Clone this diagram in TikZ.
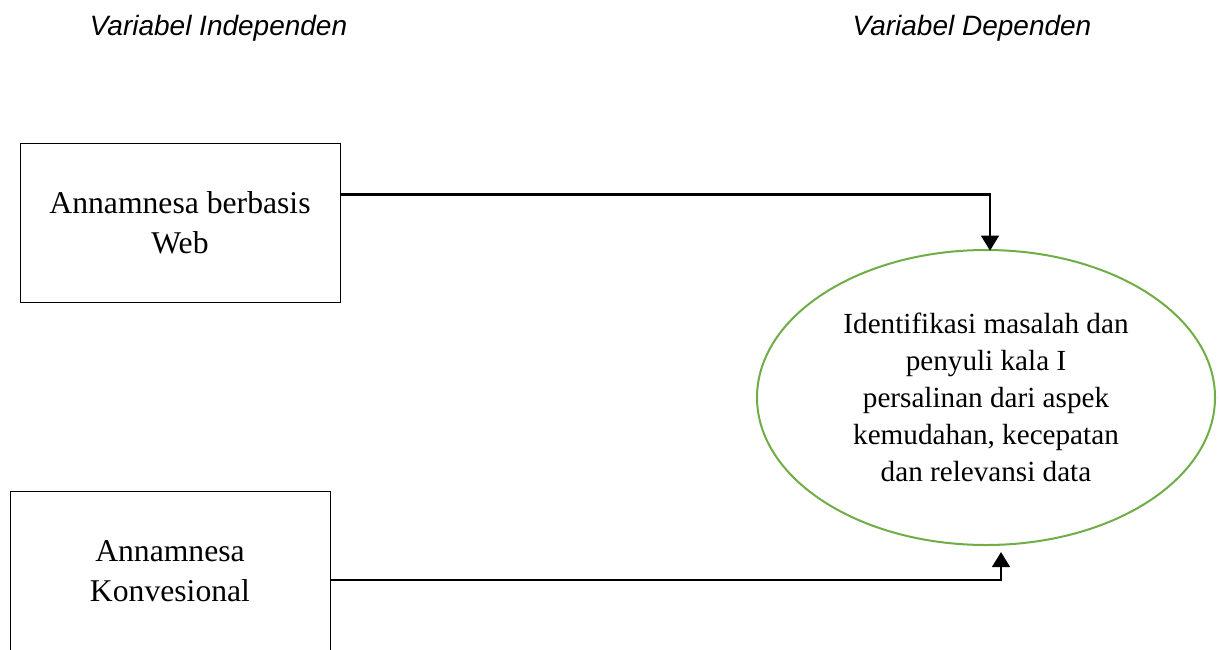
\documentclass[tikz,border=0pt]{standalone}
\usepackage{fontspec}
\setmainfont{Liberation Serif}
\setsansfont{Liberation Sans}
\usetikzlibrary{arrows.meta, positioning, shapes.geometric}
\definecolor{varGreen}{HTML}{70AD47}

\begin{document}
\begin{tikzpicture}[
  x=0.6pt, y=-0.6pt,
  varbox/.style={
    rectangle, draw=black, line width=0.6pt, align=center,
    minimum width=192pt, minimum height=95.4pt, inner sep=0pt,
    font=\fontsize{19}{24}\selectfont,
  },
  target/.style={
    ellipse, draw=varGreen, line width=1.2pt, align=center,
    minimum width=274.8pt, minimum height=177pt, inner sep=0pt,
    font=\fontsize{17.5}{22.2}\selectfont,
  },
  header/.style={font=\sffamily\itshape\fontsize{16.8}{20}\selectfont},
  arr/.style={-{Triangle[length=9pt, width=10.5pt]}, line width=1.7pt},
]
\useasboundingbox (0,0) rectangle (1219,649);

% Headers
\node[header] (hInd) at (218.5,28) {Variabel Independen};
\node[header] (hDep) at (972,28) {Variabel Dependen};

% Boxes
\node[varbox] (web)  at (180,222.5) {Annamnesa berbasis\\Web};
\node[varbox] (konv) at (170,571)   {Annamnesa\\Konvesional};

% Dependent variable
\node[target] (ident) at (986,397.5)
  {Identifikasi masalah dan\\penyuli kala I\\persalinan dari aspek\\kemudahan, kecepatan\\dan relevansi data};

% Arrows
\draw[arr] ([yshift=16.8pt]web.east) -| ([xshift=2.4pt,yshift=-1pt]ident.north);
\draw[arr] ([yshift=-5.4pt]konv.east) -| ([xshift=9pt,yshift=-3.6pt]ident.south);

\end{tikzpicture}
\end{document}
